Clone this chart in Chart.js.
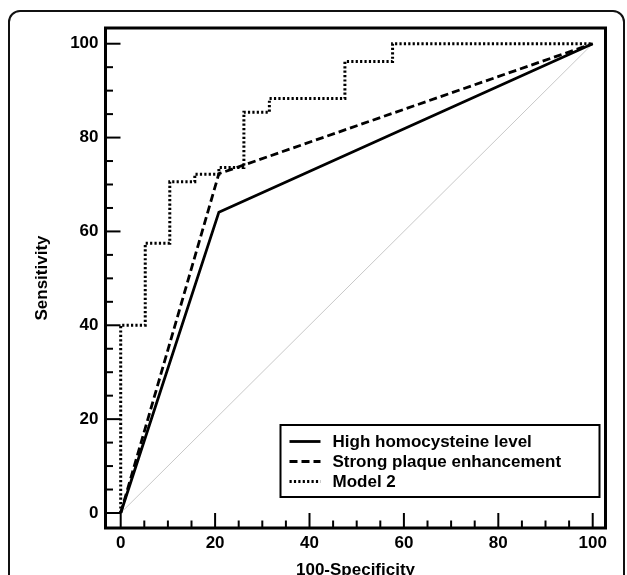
<!DOCTYPE html>
<html>
<head>
<meta charset="utf-8">
<script src="https://cdn.jsdelivr.net/npm/chart.js@4/dist/chart.umd.min.js"></script>
<style>
  html, body { margin: 0; padding: 0; background: #fff; overflow: hidden; }
  #wrap { position: relative; width: 627px; height: 575px; }
  #frame {
    position: absolute; left: 8px; top: 10px; width: 617px; height: 620px;
    box-sizing: border-box; border: 2px solid #111; border-radius: 12px;
  }
  canvas { position: absolute; left: 0; top: 0; }
</style>
</head>
<body>
<div id="wrap">
  <div id="frame"></div>
  <canvas id="roc" width="627" height="575"></canvas>
</div>
<script>
// ROC curves (x = 100-Specificity, y = Sensitivity)
const hcyX = [0, 20.8, 100];
const hcyY = [0, 64.1, 100];
const plaqueX = [0, 20.8, 100];
const plaqueY = [0, 72.3, 100];
const model2X = [0, 5.2, 10.4, 15.7, 20.8, 26.1, 31.5, 47.5, 57.6, 100];
const model2Y = [0, 40, 57.5, 70.6, 72.2, 73.6, 85.4, 88.3, 96.2, 100];
const refX = [0, 100];
const refY = [0, 100];

const seriesNames = ['High homocysteine level', 'Strong plaque enhancement', 'Model 2'];
const xTicks = [0, 20, 40, 60, 80, 100];
const yTicks = [0, 20, 40, 60, 80, 100];
const minorStep = 5;

const FONT = "'Liberation Sans', Arial, sans-serif";

function pts(xs, ys) {
    return xs.map((x, i) => ({ x: x, y: ys[i] }));
}

// frame around the plot + inward tick marks
const framePlugin = {
    id: 'frame',
    afterDraw(chart) {
        const ctx = chart.ctx;
        const a = chart.chartArea;
        const xs = chart.scales.x, ys = chart.scales.y;
        ctx.save();
        ctx.strokeStyle = '#000';
        ctx.lineWidth = 2;
        for (let v = 0; v <= 100; v += minorStep) {
            const len = v % 20 === 0 ? 15 : 7.5;
            const px = xs.getPixelForValue(v);
            ctx.beginPath();
            ctx.moveTo(px, a.bottom);
            ctx.lineTo(px, a.bottom - len);
            ctx.stroke();
            const py = ys.getPixelForValue(v);
            ctx.beginPath();
            ctx.moveTo(a.left, py);
            ctx.lineTo(a.left + len, py);
            ctx.stroke();
        }
        ctx.lineWidth = 3;
        ctx.strokeRect(a.left, a.top, a.right - a.left, a.bottom - a.top);
        ctx.restore();
    }
};

// boxed legend in the lower right corner
const legendPlugin = {
    id: 'boxLegend',
    afterDraw(chart) {
        const ctx = chart.ctx;
        const a = chart.chartArea;
        const w = 319, h = 72;
        const left = a.right - 6 - w, top = a.bottom - 31 - h;
        ctx.save();
        ctx.fillStyle = '#fff';
        ctx.fillRect(left, top, w, h);
        ctx.strokeStyle = '#000';
        ctx.lineWidth = 2;
        ctx.setLineDash([]);
        ctx.strokeRect(left, top, w, h);
        ctx.font = 'bold 17px ' + FONT;
        ctx.textBaseline = 'middle';
        ctx.fillStyle = '#000';
        seriesNames.forEach((name, i) => {
            const ds = chart.data.datasets[i];
            const y = top + 16.5 + i * 20;
            ctx.beginPath();
            ctx.lineWidth = ds.borderWidth;
            ctx.setLineDash(ds.borderDash || []);
            ctx.moveTo(left + 9, y);
            ctx.lineTo(left + 40, y);
            ctx.stroke();
            ctx.setLineDash([]);
            ctx.fillText(name, left + 52, y + 1);
        });
        ctx.restore();
    }
};

new Chart(document.getElementById('roc'), {
    type: 'line',
    data: {
        datasets: [
            {
                label: seriesNames[0],
                data: pts(hcyX, hcyY),
                borderColor: '#000',
                borderWidth: 2.8,
                pointRadius: 0
            },
            {
                label: seriesNames[1],
                data: pts(plaqueX, plaqueY),
                borderColor: '#000',
                borderWidth: 2.8,
                borderDash: [8, 4],
                pointRadius: 0
            },
            {
                label: seriesNames[2],
                data: pts(model2X, model2Y),
                borderColor: '#000',
                borderWidth: 3,
                borderDash: [2.2, 2.2],
                stepped: 'after',
                pointRadius: 0
            },
            {
                label: 'reference',
                data: pts(refX, refY),
                borderColor: '#c8c8c8',
                borderWidth: 1,
                pointRadius: 0
            }
        ]
    },
    options: {
        responsive: false,
        animation: false,
        layout: { padding: { top: 28, right: 21.5, left: 0, bottom: 0 } },
        plugins: {
            legend: { display: false },
            tooltip: { enabled: false }
        },
        scales: {
            x: {
                type: 'linear',
                position: 'bottom',
                min: -3.22,
                max: 102.71,
                grid: { display: false, drawTicks: false },
                border: { display: false },
                afterBuildTicks: s => { s.ticks = xTicks.map(v => ({ value: v })); },
                afterFit: s => { s.height = 47; },
                ticks: {
                    color: '#000',
                    padding: 5,
                    maxRotation: 0,
                    font: { family: FONT, size: 17, weight: 'bold' }
                },
                title: {
                    display: true,
                    text: '100-Specificity',
                    color: '#000',
                    padding: { top: 0, bottom: -6 },
                    font: { family: FONT, size: 17, weight: 'bold' }
                }
            },
            y: {
                type: 'linear',
                position: 'left',
                min: -3.2,
                max: 103.35,
                grid: { display: false, drawTicks: false },
                border: { display: false },
                afterBuildTicks: s => { s.ticks = yTicks.map(v => ({ value: v })); },
                afterFit: s => { s.width = 105.5; },
                ticks: {
                    color: '#000',
                    padding: 7,
                    font: { family: FONT, size: 17, weight: 'bold' }
                },
                title: {
                    display: true,
                    text: 'Sensitivity',
                    color: '#000',
                    padding: { top: 32, bottom: 0 },
                    font: { family: FONT, size: 17, weight: 'bold' }
                }
            }
        }
    },
    plugins: [framePlugin, legendPlugin]
});
</script>
</body>
</html>
